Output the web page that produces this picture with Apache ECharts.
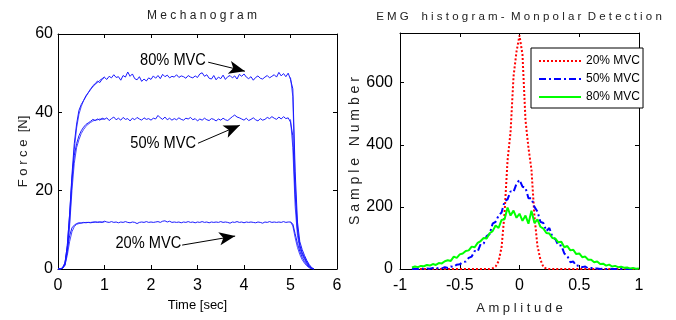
<!DOCTYPE html>
<html>
<head>
<meta charset="utf-8">
<script src="https://cdn.jsdelivr.net/npm/echarts@6/dist/echarts.min.js"></script>
<style>
  html, body { margin: 0; padding: 0; background: #fff; }
  #chart { width: 676px; height: 320px; }
</style>
</head>
<body>
<div id="chart"></div>
<script>
// ---- Mechanogram: force [N], sampled every 0.05 s from 0 to 5.5 s ----
const TIME_STEP = 0.05
const force80 = [
  0, 0, 0.3, 1.5, 6, 14, 24, 32, 37, 40.5, 42, 43, 44.2, 45, 45.8, 46.8, 47.3, 48, 47.6, 48.5,
  48.9, 48.4, 49.2, 48.8, 49.6, 48.9, 49.1, 48.2, 49.4, 49.0, 50.3, 49.2, 49.8, 48.6, 48.3, 49.1, 47.9, 48.5, 48.0, 48.8,
  48.4, 49.3, 48.7, 49.4, 48.6, 49.7, 49.1, 49.5, 48.8, 49.2, 49.0, 49.6, 48.9, 49.3, 49.1, 48.7, 49.4, 49.0, 48.8, 49.3,
  48.9, 49.8, 50.1, 49.2, 49.6, 48.7, 48.5, 49.4, 48.3, 49.0, 48.6, 49.5, 48.4, 49.1, 49.4, 48.8, 49.3, 48.5, 49.7, 49.2,
  49.8, 49.0, 48.6, 49.1, 48.2, 48.9, 49.3, 48.7, 48.5, 49.0, 49.4, 48.8, 49.2, 49.6, 49.0, 50.2, 49.3, 49.9, 49.1, 50.0,
  48.4, 46, 25, 12, 7, 5, 3.5, 2.2, 1.2, 0.4, 0
]
const force50 = [
  0, 0, 0.3, 1.5, 6, 14, 23, 29, 32, 34, 35.3, 36.2, 36.9, 37.3, 37.7, 38.2, 37.9, 38.3, 38.0, 38.5,
  38.2, 38.6, 37.9, 38.4, 38.8, 38.1, 38.5, 38.0, 38.7, 38.2, 38.4, 37.8, 38.5, 38.1, 38.7, 38.3, 38.0, 38.6, 38.2, 38.4,
  38.0, 38.5, 38.3, 39.2, 38.6, 38.2, 38.8, 38.1, 38.5, 38.0, 38.4, 38.1, 38.6, 38.2, 38.0, 38.5, 38.3, 38.7, 38.1, 38.4,
  37.8, 38.3, 38.0, 38.5, 38.1, 37.9, 38.4, 38.2, 37.8, 38.3, 38.0, 38.5, 38.1, 37.9, 38.4, 38.9, 39.3, 38.8, 38.6, 38.3,
  38.0, 38.5, 37.9, 38.2, 38.6, 38.1, 37.8, 38.4, 38.0, 38.2, 38.7, 38.4, 38.9, 38.5, 38.2, 38.8, 38.3, 38.9, 38.4, 38.6,
  37.5, 34, 19, 10, 6, 4.2, 3, 1.8, 0.9, 0.3, 0
]
const force20 = [
  0, 0, 0.3, 1.5, 5, 8.5, 10.5, 11.2, 11.6, 11.8, 11.7, 11.9, 11.8, 11.9, 11.8, 11.9, 12.0, 11.9, 12.0, 11.9,
  12.2, 12.0, 11.9, 12.1, 11.9, 12.0, 11.8, 12.0, 11.9, 12.1, 11.9, 11.8, 12.0, 11.9, 11.6, 11.9, 12.0, 11.9, 12.1, 11.9,
  12.0, 11.9, 12.0, 12.1, 11.9, 12.2, 12.3, 12.0, 12.2, 11.9, 12.0, 11.9, 12.0, 11.8, 12.0, 11.9, 12.1, 11.9, 12.0, 11.8,
  12.0, 11.9, 12.1, 11.9, 12.0, 11.8, 12.0, 11.9, 12.0, 11.9, 12.1, 11.9, 12.0, 11.9, 11.7, 12.0, 11.9, 12.1, 11.9, 12.0,
  11.8, 12.0, 11.9, 12.0, 11.9, 11.8, 12.0, 11.9, 11.7, 12.0, 11.9, 12.1, 11.9, 12.0, 11.9, 12.0, 11.9, 12.1, 11.9, 12.0,
  12.0, 11.5, 9, 6.5, 4.5, 3, 1.9, 1.1, 0.5, 0.1, 0
]
// second (overlaid) trace, visible only on the rise (0..1 s) and the fall (5..5.5 s)
const rise80b = [0, 0, 0.2, 1.0, 4.5, 12, 22, 30.5, 36, 39.5, 41.5, 43, 44, 45, 46, 46.5, 47.2, 47.6, 48.2, 48.6, 49.1]
const fall80b = [48.9, 44, 22, 10, 6, 4, 2.8, 1.6, 0.8, 0.2, 0]
const rise50b = [0, 0, 0.2, 1.0, 4.5, 11, 20, 27, 31, 33, 34.6, 35.6, 36.4, 37, 37.4, 37.8, 38, 38.1, 38.3, 38.2, 38.4]
const fall50b = [38.2, 31, 16, 8.5, 5.2, 3.6, 2.5, 1.4, 0.7, 0.2, 0]
const rise20b = [0, 0, 0.2, 1.0, 3.5, 7, 9.5, 10.8, 11.4, 11.6, 11.8, 11.8, 11.9, 11.9, 11.9, 12, 12, 12, 12, 12, 12]
const fall20b = [12, 11, 8, 5.5, 3.7, 2.4, 1.5, 0.8, 0.3, 0.05, 0]

// annotation text + arrows, in data coords [time, force]
const notes = [
  { text: '80% MVC', at: [3.18, 53.3], from: [3.23, 52.8], to: [4.02, 50.5] },
  { text: '50% MVC', at: [2.97, 32.2], from: [3.01, 32.1], to: [3.91, 36.7] },
  { text: '20% MVC', at: [2.65, 6.6], from: [2.67, 6.1], to: [3.81, 8.4] }
]

// ---- EMG histogram: amplitude bins every 0.025 from -0.9 to 1.0 ----
const BIN_START = -0.9
const BIN_STEP = 0.025
const hist20 = [
  0, 0, 0, 0, 0, 0, 0, 0, 0, 0, 0, 0, 0, 0, 0, 0, 0, 0, 0, 0,
  0, 0, 0, 0, 0, 0, 0, 2, 8, 25, 70, 180, 350, 440, 620, 700,
  752, 690, 480, 390, 320, 170, 75, 30, 6, 1, 0, 0, 0, 0, 0, 0, 0, 0, 0, 0,
  0, 0, 0, 0, 0, 0, 0, 0, 0, 0, 0, 0, 0, 0, 0, 0, 0, 0, 0, 0, 0
]
const hist50 = [
  0, 1, 0, 2, 0, 2, 1, 3, 1, 4,
  2, 6, 3, 8, 7, 14, 15, 22, 24, 36,
  40, 58, 56, 80, 82, 106, 112, 146, 152, 172,
  182, 218, 224, 250, 248, 275, 287, 265, 262, 228,
  228, 200, 185, 152, 148, 122, 132, 104, 96, 76,
  76, 50, 42, 22, 24, 10, 12, 6, 8, 2,
  3, 1, 2, 0, 1, 0, 1, 0, 0, 0,
  0, 0, 0, 0, 0, 0, 0
]
const hist80 = [
  5, 8, 6, 10, 9, 13, 11, 16, 13, 19,
  18, 25, 28, 26, 40, 36, 47, 50, 58, 60,
  72, 70, 84, 90, 100, 98, 115, 122, 140, 132,
  158, 160, 198, 172, 188, 165, 178, 155, 172, 146,
  188, 148, 160, 136, 130, 116, 114, 100, 98, 86,
  88, 70, 74, 60, 62, 48, 50, 38, 40, 30,
  30, 22, 24, 16, 17, 11, 14, 8, 10, 6,
  7, 4, 5, 2, 3, 1, 2
]

const FONT = "'Liberation Sans', Arial, sans-serif"
const BLUE = '#1a1aff'

const toPairs = (vals, start, step) => vals.map((v, i) => [+(start + i * step).toFixed(4), v])
const riseFall = (rise, fall) =>
  toPairs(rise, 0, TIME_STEP).concat([[2.5, null]], toPairs(fall, 5, TIME_STEP))

const chart = echarts.init(document.getElementById('chart'))

const tickStyle = { inside: true, length: 4, lineStyle: { color: '#000' } }
const lineStyle = { lineStyle: { color: '#000', width: 1 } }
const labelStyle = { color: '#000', fontFamily: FONT, fontSize: 16 }
const nameStyle = { fontFamily: FONT, fontSize: 13, color: '#222' }

const boxAxis = (gridIndex, min, max, interval, position) => ({
  type: 'value', gridIndex, min, max, interval, position,
  axisLine: { show: true, onZero: false, ...lineStyle },
  axisTick: tickStyle, axisLabel: { show: false }, splitLine: { show: false }
})

const forceSeries = (vals) => ({
  type: 'line', xAxisIndex: 0, yAxisIndex: 0,
  data: toPairs(vals, 0, TIME_STEP), showSymbol: false, silent: true,
  lineStyle: { color: BLUE, width: 1 }
})
const forceTrace = (rise, fall) => ({
  type: 'line', xAxisIndex: 0, yAxisIndex: 0, data: riseFall(rise, fall),
  showSymbol: false, silent: true, connectNulls: false,
  lineStyle: { color: BLUE, width: 1, opacity: 0.8 }
})
const histSeries = (name, vals, color, type) => ({
  name, type: 'line', xAxisIndex: 1, yAxisIndex: 1,
  data: toPairs(vals, BIN_START, BIN_STEP), showSymbol: false, symbol: 'none',
  color, itemStyle: { color },
  lineStyle: { color, width: 2, type }
})

const option = {
  animation: false,
  title: [
    { text: 'M e c h a n o g r a m', left: 197, top: 5, textAlign: 'center',
      textStyle: { fontFamily: FONT, fontSize: 12, fontWeight: 'normal', color: '#222' } },
    { text: 'E M G    h i s t o g r a m -  M o n p o l a r  D e t e c t i o n', left: 514, top: 6, textAlign: 'center',
      textStyle: { fontFamily: FONT, fontSize: 11.5, fontWeight: 'normal', color: '#222' } }
  ],
  legend: {
    data: ['20% MVC', '50% MVC', '80% MVC'],
    orient: 'vertical', left: 531, top: 48,
    padding: [7, 3, 5, 7], itemGap: 6, itemWidth: 42, itemHeight: 14,
    borderColor: '#000', borderWidth: 1, borderRadius: 0, backgroundColor: '#fff',
    itemStyle: { opacity: 0 },
    textStyle: { fontFamily: FONT, fontSize: 12, color: '#000' }
  },
  grid: [
    { left: 58, top: 34, width: 279, height: 235 },
    { left: 400, top: 33, width: 239, height: 239 }
  ],
  xAxis: [
    { type: 'value', gridIndex: 0, min: 0, max: 6, interval: 1,
      name: 'Time [sec]', nameLocation: 'middle', nameGap: 28,
      nameTextStyle: { ...nameStyle, color: '#000' },
      axisLine: { onZero: false, ...lineStyle }, axisTick: tickStyle,
      axisLabel: { ...labelStyle, margin: 9 }, splitLine: { show: false } },
    { type: 'value', gridIndex: 1, min: -1, max: 1, interval: 0.5,
      name: 'A m p l i t u d e', nameLocation: 'middle', nameGap: 33,
      nameTextStyle: nameStyle,
      axisLine: { onZero: false, ...lineStyle }, axisTick: tickStyle,
      axisLabel: { ...labelStyle, margin: 9 }, splitLine: { show: false } },
    boxAxis(0, 0, 6, 1, 'top'),
    boxAxis(1, -1, 1, 0.5, 'top')
  ],
  yAxis: [
    { type: 'value', gridIndex: 0, min: 0, max: 60, interval: 20,
      name: 'F o r c e  [N]', nameLocation: 'middle', nameGap: 28,
      nameTextStyle: nameStyle,
      axisLine: { show: true, onZero: false, ...lineStyle }, axisTick: tickStyle,
      axisLabel: { ...labelStyle, margin: 5 }, splitLine: { show: false } },
    { type: 'value', gridIndex: 1, min: 0, max: 760, interval: 200,
      name: 'S a m p l e   N u m b e r', nameLocation: 'middle', nameGap: 34,
      nameTextStyle: { ...nameStyle, fontSize: 14 },
      axisLine: { show: true, onZero: false, ...lineStyle }, axisTick: tickStyle,
      axisLabel: { ...labelStyle, margin: 7, showMaxLabel: false }, splitLine: { show: false } },
    boxAxis(0, 0, 60, 20, 'right'),
    boxAxis(1, 0, 760, 200, 'right')
  ],
  series: [
    forceSeries(force80),
    forceSeries(force50),
    forceSeries(force20),
    forceTrace(rise80b, fall80b),
    forceTrace(rise50b, fall50b),
    forceTrace(rise20b, fall20b),
    {
      type: 'line', xAxisIndex: 0, yAxisIndex: 0, data: [], silent: true,
      markLine: {
        silent: true, symbol: ['none', 'arrow'], symbolSize: [10, 16],
        label: { show: false },
        lineStyle: { color: '#000', width: 1, type: 'solid' },
        data: notes.map(n => [{ coord: n.from }, { coord: n.to }])
      }
    },
    histSeries('20% MVC', hist20, '#ff0000', [2, 2]),
    histSeries('50% MVC', hist50, '#0000ff', [7, 3, 2, 3]),
    histSeries('80% MVC', hist80, '#00ff00', 'solid')
  ]
}

chart.setOption(option)

// annotation texts, placed through the left grid's scales
chart.setOption({
  graphic: notes.map(n => {
    const p = chart.convertToPixel({ gridIndex: 0 }, n.at)
    return {
      type: 'text', x: p[0], y: p[1], scaleX: 0.86,
      style: { text: n.text, fill: '#000', font: '17px ' + FONT, textAlign: 'right', textVerticalAlign: 'middle' }
    }
  })
})
</script>
</body>
</html>
